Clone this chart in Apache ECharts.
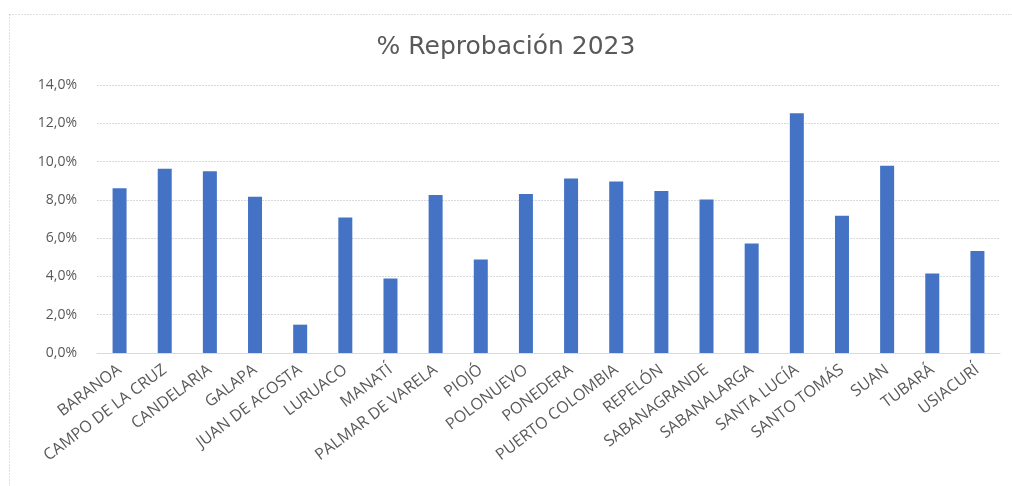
<!DOCTYPE html>
<html>
<head>
<meta charset="utf-8">
<script src="https://cdn.jsdelivr.net/npm/echarts@6/dist/echarts.min.js"></script>
<style>html,body{margin:0;padding:0;background:#fff;}#c{width:1012px;height:486px;}</style>
</head>
<body>
<div id="c"></div>
<script>
const categories = ["BARANOA","CAMPO DE LA CRUZ","CANDELARIA","GALAPA","JUAN DE ACOSTA","LURUACO","MANATÍ","PALMAR DE VARELA","PIOJÓ","POLONUEVO","PONEDERA","PUERTO COLOMBIA","REPELÓN","SABANAGRANDE","SABANALARGA","SANTA LUCÍA","SANTO TOMÁS","SUAN","TUBARÁ","USIACURÍ"];
const reprobacion = [8.61, 9.62, 9.50, 8.16, 1.48, 7.08, 3.89, 8.25, 4.88, 8.30, 9.12, 8.96, 8.46, 8.02, 5.72, 12.52, 7.17, 9.78, 4.15, 5.33];
const titleText = "% Reprobación 2023";

const chart = echarts.init(document.getElementById('c'), null, {renderer: 'canvas'});
chart.setOption({
  animation: false,
  backgroundColor: '#fff',
  title: {
    text: titleText, left: 'center', top: 30,
    textStyle: {fontFamily: 'DejaVu Sans', fontSize: 25, fontWeight: 'normal', color: '#595959'}
  },
  graphic: [{
    type: 'rect', left: 7, top: 12, shape: {width: 1100, height: 600},
    style: {fill: 'none', stroke: '#bfbfbf', lineWidth: 1, lineDash: [1, 2]}, silent: true
  }],
  grid: {left: 97, right: 12, top: 85, bottom: 133},
  xAxis: {
    type: 'category', data: categories,
    axisLine: {show: true, lineStyle: {color: '#d9d9d9'}},
    axisTick: {show: false},
    axisLabel: {rotate: 37, interval: 0, margin: 15, fontFamily: 'Open Sans', fontSize: 16, color: '#595959'}
  },
  yAxis: {
    type: 'value', min: 0, max: 14, interval: 2,
    axisLine: {show: false}, axisTick: {show: false},
    axisLabel: {margin: 20, fontFamily: 'Open Sans', fontSize: 14, color: '#595959',
      formatter: v => v.toFixed(1).replace('.', ',') + '%'},
    splitLine: {lineStyle: {color: '#d9d9d9', type: [2, 1]}}
  },
  series: [{
    type: 'bar', data: reprobacion, barWidth: 14,
    itemStyle: {color: '#4472C4'}
  }]
});
</script>
</body>
</html>
